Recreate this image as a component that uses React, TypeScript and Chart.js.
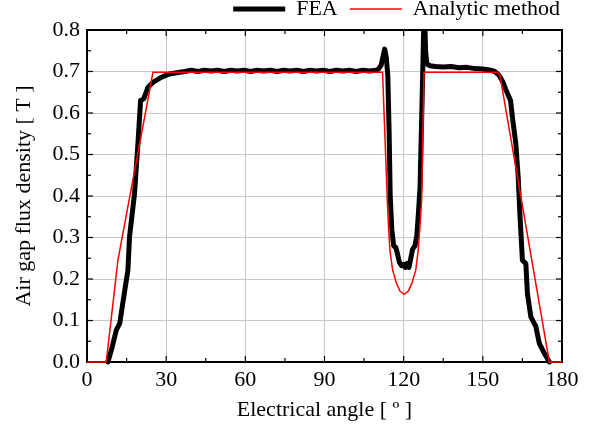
import React, { useEffect, useRef } from "react";
import { Chart, registerables } from "chart.js";

Chart.register(...registerables);

// ---- data ----
const feaAngle = [7.9, 9.5, 11.1, 12.4, 14.0, 15.5, 16.1, 18.0, 19.3, 20.3, 21.5, 23.1, 25.0, 28.1, 31.2, 34.0, 37.0, 39.5, 42.0, 44.5, 47.0, 49.5, 52.0, 54.5, 57.0, 59.5, 62.0, 64.5, 67.0, 69.5, 72.0, 74.5, 77.0, 79.5, 82.0, 84.5, 87.0, 89.5, 92.0, 94.5, 97.0, 99.5, 102.0, 104.5, 107.0, 109.5, 110.5, 111.5, 112.3, 112.8, 113.4, 114.0, 114.5, 114.9, 115.5, 116.2, 117.0, 117.6, 118.4, 119.2, 119.9, 120.6, 121.3, 122.0, 122.7, 123.4, 124.3, 125.0, 125.6, 126.2, 126.8, 127.3, 127.8, 128.3, 128.8, 130.0, 132.0, 135.0, 138.0, 141.0, 144.0, 147.0, 150.0, 153.0, 154.5, 156.0, 157.5, 158.6, 160.5, 161.2, 162.5, 163.4, 164.1, 165.0, 166.3, 166.9, 168.2, 170.1, 171.4, 173.3, 175.2];
const feaFlux = [0, 0.035, 0.077, 0.093, 0.16, 0.221, 0.301, 0.405, 0.526, 0.63, 0.634, 0.662, 0.674, 0.686, 0.694, 0.697, 0.7, 0.703, 0.7, 0.703, 0.701, 0.703, 0.7, 0.703, 0.701, 0.703, 0.7, 0.703, 0.701, 0.703, 0.7, 0.703, 0.701, 0.703, 0.7, 0.703, 0.701, 0.703, 0.7, 0.703, 0.701, 0.703, 0.7, 0.703, 0.701, 0.703, 0.706, 0.716, 0.74, 0.754, 0.735, 0.69, 0.55, 0.4, 0.32, 0.28, 0.276, 0.262, 0.24, 0.232, 0.235, 0.228, 0.238, 0.228, 0.25, 0.272, 0.28, 0.305, 0.36, 0.42, 0.58, 0.72, 0.87, 0.75, 0.718, 0.714, 0.712, 0.711, 0.712, 0.709, 0.71, 0.707, 0.706, 0.703, 0.7, 0.692, 0.676, 0.658, 0.63, 0.59, 0.526, 0.445, 0.35, 0.245, 0.237, 0.165, 0.109, 0.085, 0.045, 0.021, 0];

const anaAngle = [0, 7.3, 11.7, 25.0, 112.0, 113.8, 114.3, 114.8, 115.8, 117.3, 118.6, 120.2, 121.8, 123.1, 124.6, 125.5, 126.1, 126.8, 127.7, 155.5, 156.5, 175.2, 180];
const anaFlux = [0, 0, 0.245, 0.698, 0.698, 0.389, 0.32, 0.269, 0.222, 0.189, 0.171, 0.163, 0.171, 0.189, 0.222, 0.269, 0.32, 0.389, 0.698, 0.698, 0.69, 0, 0];

const seriesNames = ["FEA", "Analytic method"];
const xTitle = "Electrical angle [ \u00BA ]";
const yTitle = "Air gap flux density [ T ]";
const xRange = [0, 180];
const yRange = [0, 0.8];
const xStep = 30;
const yStep = 0.1;

const FONT = "'Liberation Serif', 'Times New Roman', serif";

const framePlugin = {
  id: "frame",
  beforeDatasetsDraw(chart: any) {
    const { ctx, chartArea } = chart;
    const { left, right, top, bottom } = chartArea;
    const xs = chart.scales.x;
    const ys = chart.scales.y;
    ctx.save();
    ctx.strokeStyle = "#000";
    ctx.lineWidth = 1.2;
    const seg = (x1: number, y1: number, x2: number, y2: number) => {
      ctx.beginPath();
      ctx.moveTo(x1, y1);
      ctx.lineTo(x2, y2);
      ctx.stroke();
    };
    const xt = xs.ticks.map((t: any) => t.value);
    const xMinor: number[] = [];
    for (let i = 0; i < xt.length - 1; i++) xMinor.push((xt[i] + xt[i + 1]) / 2);
    xt.forEach((v: number) => {
      const p = xs.getPixelForValue(v);
      seg(p, bottom, p, bottom - 6);
      seg(p, top, p, top + 6);
    });
    xMinor.forEach((v) => {
      const p = xs.getPixelForValue(v);
      seg(p, bottom, p, bottom - 4);
      seg(p, top, p, top + 4);
    });
    const yt = ys.ticks.map((t: any) => t.value);
    const yMinor: number[] = [];
    for (let i = 0; i < yt.length - 1; i++) yMinor.push((yt[i] + yt[i + 1]) / 2);
    yt.forEach((v: number) => {
      const p = ys.getPixelForValue(v);
      seg(left, p, left + 6, p);
      seg(right, p, right - 6, p);
    });
    yMinor.forEach((v) => {
      const p = ys.getPixelForValue(v);
      seg(left, p, left + 4, p);
      seg(right, p, right - 4, p);
    });
    ctx.lineWidth = 2;
    ctx.strokeRect(left, top, right - left, bottom - top);
    ctx.restore();
  },
};

export default function App() {
  const ref = useRef<HTMLCanvasElement | null>(null);
  useEffect(() => {
    if (!ref.current) return;
    Chart.defaults.font.family = FONT;
    Chart.defaults.font.size = 22;
    Chart.defaults.color = "#000";
    const chart = new Chart(ref.current, {
      type: "line",
      data: {
        datasets: [
          {
            label: seriesNames[0],
            data: feaAngle.map((a, i) => ({ x: a, y: feaFlux[i] })),
            borderColor: "#000",
            backgroundColor: "#000",
            borderWidth: 5,
            borderCapStyle: "round",
            borderJoinStyle: "round",
            pointRadius: 0,
            tension: 0,
            order: 2,
            clip: { left: 5, right: 5, top: 0, bottom: 5 } as any,
          },
          {
            label: seriesNames[1],
            data: anaAngle.map((a, i) => ({ x: a, y: anaFlux[i] })),
            borderColor: "#ff0000",
            backgroundColor: "#ff0000",
            borderWidth: 1.5,
            pointRadius: 0,
            tension: 0,
            order: 1,
            clip: { left: 3, right: 3, top: 3, bottom: 3 } as any,
          },
        ],
      },
      options: {
        animation: false,
        responsive: false,
        maintainAspectRatio: false,
        layout: { padding: { left: 0, right: 18, top: -14, bottom: 0 } },
        plugins: {
          legend: {
            position: "top",
            align: "end",
            labels: {
              usePointStyle: true,
              pointStyle: "line",
              pointStyleWidth: 52,
              padding: 12,
              font: { family: FONT, size: 22 },
              color: "#000",
              sort: (a: any, b: any) => a.datasetIndex - b.datasetIndex,
            },
          },
          tooltip: { enabled: false },
        },
        scales: {
          x: {
            type: "linear",
            min: xRange[0],
            max: xRange[1],
            ticks: { stepSize: xStep, padding: 5, font: { family: FONT, size: 22 }, color: "#000", maxRotation: 0 },
            grid: { color: "#c8c8c8", lineWidth: 1, drawTicks: false },
            border: { display: false },
            title: { display: true, text: xTitle, font: { family: FONT, size: 22 }, color: "#000", padding: { top: 0, bottom: 2 } },
            afterFit: (s: any) => {
              s.height = 63;
            },
          },
          y: {
            type: "linear",
            position: "left",
            min: yRange[0],
            max: yRange[1],
            ticks: {
              stepSize: yStep,
              padding: 7,
              font: { family: FONT, size: 22 },
              color: "#000",
              callback: (v: any) => Number(v).toFixed(1),
            },
            grid: { color: "#c8c8c8", lineWidth: 1, drawTicks: false },
            border: { display: false },
            title: { display: true, text: yTitle, font: { family: FONT, size: 22 }, color: "#000", padding: { top: 11, bottom: 0 } },
            afterFit: (s: any) => {
              s.width = 87;
            },
          },
          y2: {
            type: "linear",
            position: "right",
            display: true,
            grid: { display: false, drawTicks: false },
            border: { display: false },
            ticks: { display: false },
            afterFit: (s: any) => {
              s.width = 10;
            },
          },
        },
      },
      plugins: [framePlugin],
    });
    return () => chart.destroy();
  }, []);
  return (
    <div style={{ position: "fixed", left: 0, top: 0, width: 590, height: 425, background: "#fff" }}>
      <canvas ref={ref} width={590} height={425} style={{ display: "block" }} />
    </div>
  );
}
